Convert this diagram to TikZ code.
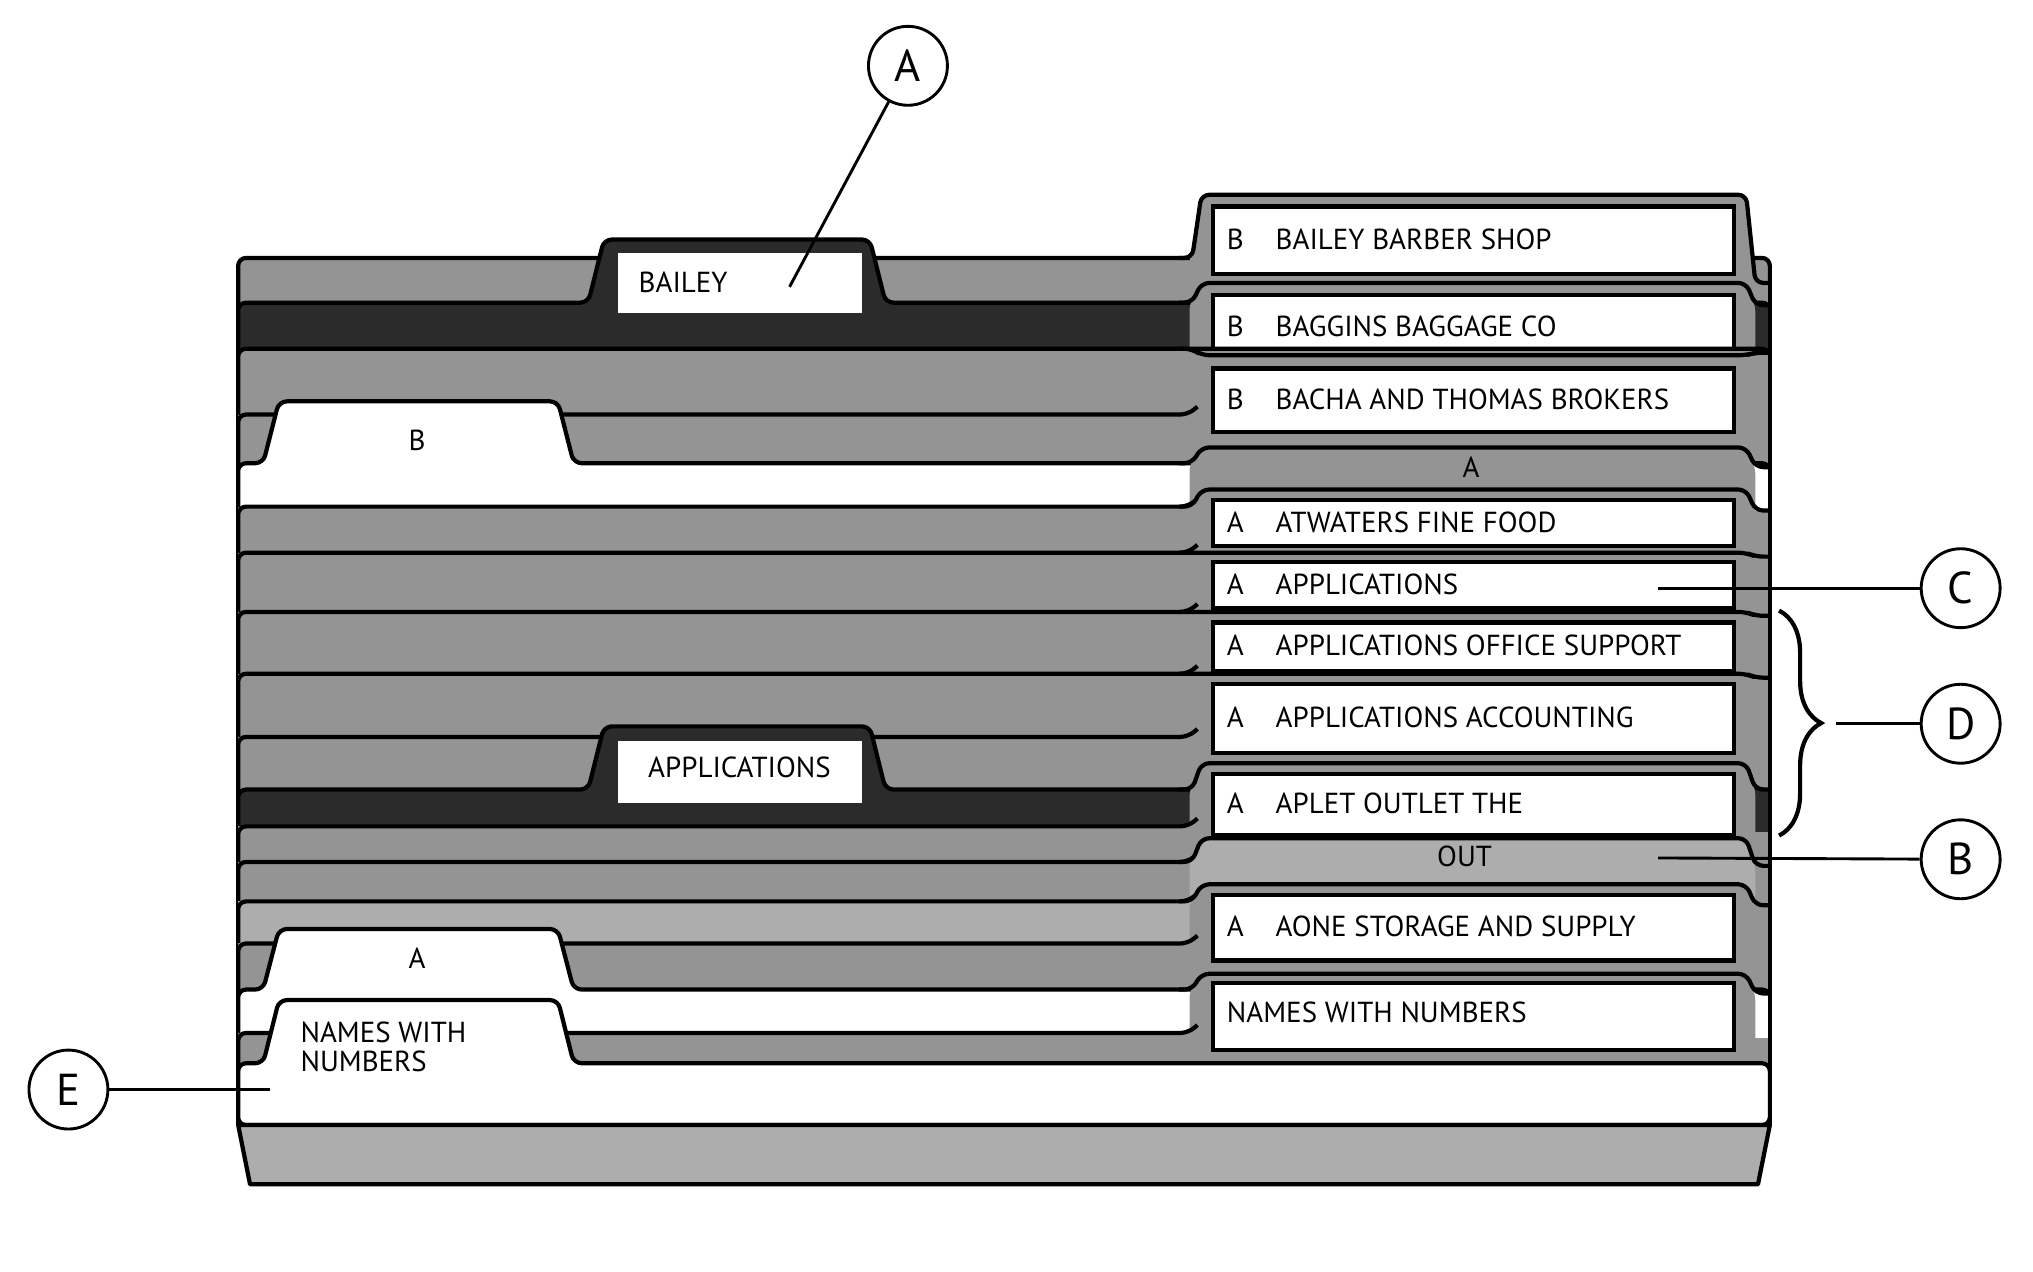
\documentclass[tikz,border=0pt]{standalone}
\usepackage{fontspec}
\setmainfont{PT Sans}
\usetikzlibrary{decorations.pathreplacing}
\definecolor{fg}{gray}{0.58}
\definecolor{fd}{gray}{0.17}
\definecolor{fl}{gray}{0.68}
\tikzset{
 fold/.style={draw=black,line width=1.6pt,rounded corners=3pt,line join=round},
 lab/.style={draw=black,fill=white,line width=1.6pt},
 txt/.style={font=\fontsize{11}{12}\selectfont,inner sep=0pt},
 call/.style={draw=black,line width=1.1pt,circle,minimum size=30pt,inner sep=0pt,fill=white,font=\fontsize{17}{18}\selectfont},
 lead/.style={draw=black,line width=1.1pt}
}
% ytop, T, R, tab fill, body fill
\newcommand\rtab[5]{\fill[fill=#5] (1330,#3) rectangle (1345,855);
 \fill[rounded corners=3pt,fill=#4] (904,#1) -- (913,#2) -- (1327,#2) -- (1334,#3) -- (1334,855) -- (904,855) -- cycle;
 \draw[fold] (896,#1) -- (906,#1) -- (913,#2) -- (1327,#2) -- (1334,#3) -- (1345,#3);}
\newcommand\plain[2]{\fill[fill=#2] (181,855) -- (181,#1) -- (912,#1) -- (912,855) -- cycle;
 \fill[fill=#2] (1334,#1+4) rectangle (1345,855);
 \draw[fold] (181,855) -- (181,#1) -- (903,#1) -- (910,#1-6);}
\newcommand\midtab[5]{\filldraw[fold,fill=#2] (181,855) -- (181,#1) -- (#3-8,#1) -- (#3+4,#5) -- (#4-4,#5) -- (#4+8,#1) -- (1345,#1) -- (1345,855) -- cycle;}
\newcommand\rlab[3]{\draw[lab] (922,#1) rectangle (1318,#2); \node[txt,anchor=base west] at (932,{(#1+#2)/2+7}) {#3};}
\begin{document}
\begin{tikzpicture}[x=0.5pt,y=-0.5pt]
\useasboundingbox (0,0) rectangle (1545,966);
\filldraw[fold,fill=fg] (181,855) -- (181,196) -- (1345,196) -- (1345,855) -- cycle;
\rtab{196}{148}{215}{fg}{fg} \rlab{157}{208}{B\hspace{1.1em}BAILEY BARBER SHOP}
\midtab{230}{fd}{455}{665}{182} \rtab{230}{215}{232}{fg}{fd} \rlab{224}{273}{B\hspace{1.1em}BAGGINS BAGGAGE CO}
\draw[lab,draw=none] (470,192) rectangle (655,238); \node[txt,anchor=base west] (bailey) at (485,222) {BAILEY};
\filldraw[fold,fill=fg] (181,855) -- (181,265) -- (1345,265) -- (1345,855) -- cycle;
\rtab{265}{270}{268}{fg}{fg} \rlab{280}{328}{B\hspace{1.1em}BACHA AND THOMAS BROKERS}
\plain{315}{fg}
\midtab{352}{white}{208}{428}{305} \node[txt] (b) at (317,335) {B};
\rtab{352}{340}{355}{fg}{white} \node[txt] (ga) at (1118,355) {A};
\plain{385}{fg} \rtab{385}{372}{388}{fg}{fg} \rlab{380}{415}{A\hspace{1.1em}ATWATERS FINE FOOD}
\plain{420}{fg} \rtab{420}{420}{423}{fg}{fg} \rlab{427}{462}{A\hspace{1.1em}APPLICATIONS}
\plain{465}{fg} \rtab{465}{465}{468}{fg}{fg} \rlab{473}{510}{A\hspace{1.1em}APPLICATIONS OFFICE SUPPORT}
\plain{512}{fg} \rtab{512}{512}{515}{fg}{fg} \rlab{520}{572}{A\hspace{1.1em}APPLICATIONS ACCOUNTING}
\plain{560}{fg}
\midtab{600}{fd}{455}{665}{552} \rtab{600}{580}{600}{fg}{fd} \rlab{588}{635}{A\hspace{1.1em}APLET OUTLET THE}
\draw[lab,draw=none] (470,563) rectangle (655,610); \node[txt] (appl) at (562,583) {APPLICATIONS};
\plain{628}{fg}
\plain{655}{fg} \rtab{655}{637}{658}{fl}{fg} \node[txt] (out) at (1113,651) {OUT};
\plain{685}{fl} \rtab{685}{672}{688}{fg}{fg} \rlab{680}{730}{A\hspace{1.1em}AONE STORAGE AND SUPPLY}
\plain{717}{fg}
\midtab{752}{white}{208}{428}{706} \node[txt] (ta) at (317,728) {A};
\rtab{752}{740}{755}{fg}{white} \draw[lab] (922,747) rectangle (1318,798); \node[txt,anchor=base west] at (932,777) {NAMES WITH NUMBERS};
\plain{785}{fg}
\midtab{808}{white}{208}{428}{760}
\node[txt,anchor=north west,align=left,font=\fontsize{11}{11}\selectfont] (nwn) at (228,776) {NAMES WITH\\NUMBERS};
\draw[line width=1.6pt] (1345,215) -- (1345,855);
\filldraw[fold,rounded corners=0pt,fill=fl] (181,855) -- (1345,855) -- (1336,900) -- (190,900) -- cycle;
\node[call] (cA) at (690,50) {A};
\coordinate (pA) at (600,218);
\draw[lead] (pA) -- (cA);
\node[call] (cC) at (1490,447) {C};
\coordinate (pC) at (1260,447);
\draw[lead] (pC) -- (cC);
\node[call] (cD) at (1490,550) {D};
\draw[line width=1.6pt,decorate,decoration={brace,amplitude=16pt,aspect=0.5}] (1352,464) -- (1352,635);
\coordinate (pD) at (1395,550);
\draw[lead] (pD) -- (cD);
\node[call] (cB) at (1490,653) {B};
\coordinate (pB) at (1260,652);
\draw[lead] (pB) -- (cB);
\node[call] (cE) at (52,828) {E};
\coordinate (pE) at (205,828);
\draw[lead] (cE) -- (pE);
\end{tikzpicture}
\end{document}
